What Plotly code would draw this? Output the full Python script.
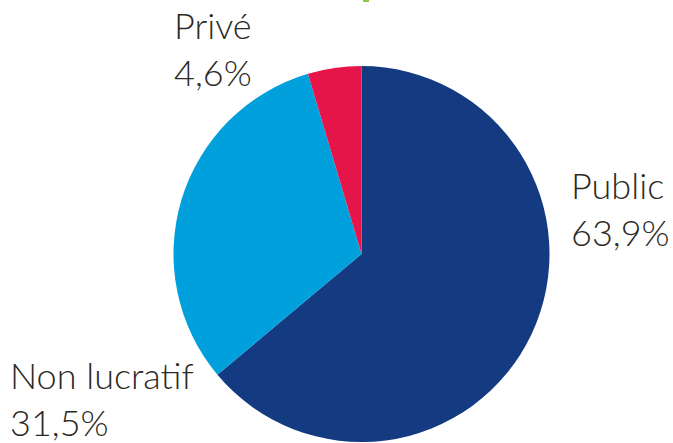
import plotly.graph_objects as go

labels = ["Public", "Non lucratif", "Privé"]
values = [63.9, 31.5, 4.6]
value_text = ["63,9%", "31,5%", "4,6%"]
colors = ["#143A82", "#00A0DD", "#E5154A"]

W, H = 673, 443

fig = go.Figure(go.Pie(
    labels=labels,
    values=values,
    sort=False,
    direction="clockwise",
    rotation=0,
    marker=dict(colors=colors, line=dict(width=0)),
    textinfo="none",
    hoverinfo="label+percent",
    showlegend=False,
    domain=dict(x=[173 / W, 550 / W], y=[1 - 442 / H, 1 - 66 / H]),
))

label_pos = {
    "Public": (569, 161),
    "Non lucratif": (8, 351),
    "Privé": (172, 1),
}
txt_color = "#2B2924"
for lab, vt in zip(labels, value_text):
    px, py = label_pos[lab]
    fig.add_annotation(
        x=px / W, y=1 - py / H, xref="paper", yref="paper",
        xanchor="left", yanchor="top", showarrow=False, align="left",
        text=f"{lab}<br>{vt}",
        font=dict(family="Lato, Open Sans, sans-serif", size=36, color=txt_color, weight=300),
    )

fig.add_shape(type="rect", xref="paper", yref="paper",
              x0=363 / W, x1=369 / W, y0=1 - 2 / H, y1=1.0,
              fillcolor="#8DC63F", line=dict(width=0))

fig.update_layout(
    width=W, height=H,
    margin=dict(l=0, r=0, t=0, b=0),
    paper_bgcolor="white", plot_bgcolor="white",
)

fig.write_html(
    "out.html",
    config={"displayModeBar": False},
    post_script="document.body.style.margin='0px';document.body.style.padding='0px';document.body.style.overflow='hidden';",
)
